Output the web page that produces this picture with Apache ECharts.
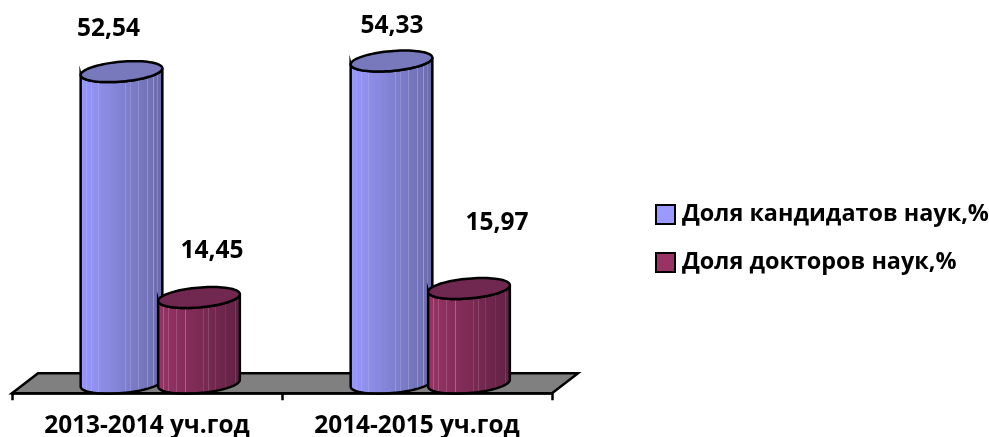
<!DOCTYPE html>
<html>
<head>
<meta charset="utf-8">
<style>
  html, body { margin: 0; padding: 0; background: #fff; }
  #chart { width: 989px; height: 437px; }
</style>
<script src="https://cdn.jsdelivr.net/npm/echarts@6/dist/echarts.min.js"></script>
</head>
<body>
<div id="chart"></div>
<script>
var categories = ['2013-2014 уч.год', '2014-2015 уч.год'];
var candidateName = 'Доля кандидатов наук,%';
var doctorName = 'Доля докторов наук,%';
var candidates = [52.54, 54.33];
var doctors = [14.45, 15.97];

var FONT = '"Open Sans", sans-serif';
var streaks = [0.08, 0.14, 0.23, 0.34, 0.55, 0.61, 0.70, 0.81, 0.88, 0.93]; // светлые полосы на цилиндре
var halfW = 41, halfH = 9.9, tilt = 5 * Math.PI / 180;

function mix (a, b, t) {
  return [0, 1, 2].map(function (i) { return a[i] + (b[i] - a[i]) * t; });
}
function css (c) {
  return 'rgb(' + c.map(Math.round).join(',') + ')';
}
function bodyFill (left, right) {
  var white = [255, 255, 255];
  var stops = [{ offset: 0, color: css(left) }];
  streaks.forEach(function (p) {
    var base = mix(left, right, p);
    stops.push({ offset: p - 0.006, color: css(base) });
    stops.push({ offset: p, color: css(mix(base, white, 0.28)) });
    stops.push({ offset: p + 0.006, color: css(base) });
  });
  stops.push({ offset: 1, color: css(right) });
  return { type: 'linear', x: 0, y: 0, x2: 1, y2: 0, colorStops: stops };
}
function ellipsePoint (cx, cy, t) {
  var ex = halfW * Math.cos(t), ey = halfH * Math.sin(t);
  return [cx + ex * Math.cos(tilt) + ey * Math.sin(tilt), cy - ex * Math.sin(tilt) + ey * Math.cos(tilt)];
}

function cylinder (shift, left, right, capColor, labelOffsets) {
  return function (params, api) {
    var i = api.value(0);
    var top = api.coord([i, api.value(1)]);
    var bottom = api.coord([i, 0]);
    var cx = top[0] + shift;
    var pts = [];
    var k;
    // нижняя дуга и затем верхняя, чтобы получить контур тела
    for (k = 0; k <= 40; k++) pts.push(ellipsePoint(cx, bottom[1], k / 40 * Math.PI));
    for (k = 40; k >= 0; k--) pts.push(ellipsePoint(cx, top[1], k / 40 * Math.PI));
    var capPts = [];
    for (k = 0; k < 80; k++) capPts.push(ellipsePoint(cx, top[1], k / 80 * 2 * Math.PI));
    var off = labelOffsets[i];
    return {
      type: 'group',
      children: [
        { type: 'polygon', shape: { points: pts }, style: { fill: bodyFill(left, right), stroke: '#000', lineWidth: 2.5 } },
        { type: 'polygon', shape: { points: capPts }, style: { fill: capColor, stroke: '#000', lineWidth: 2.5 } },
        {
          type: 'text',
          style: {
            x: cx + off[0], y: top[1] + off[1],
            text: api.value(1).toFixed(2).replace('.', ','),
            fill: '#000', font: 'bold 24.5px ' + FONT, align: 'center', verticalAlign: 'middle'
          }
        }
      ]
    };
  };
}

function floorItem (params, api) {
  var g = params.coordSys;
  var y = g.y + g.height + 10;
  return {
    type: 'polygon',
    shape: { points: [[g.x, y], [g.x + 26, y - 20], [g.x + g.width + 26, y - 20], [g.x + g.width, y]] },
    style: { fill: '#808080', stroke: '#000', lineWidth: 2.5 }
  };
}

var chart = echarts.init(document.getElementById('chart'));
chart.setOption({
  animation: false,
  grid: { left: 12, width: 540, top: 27.4, height: 355.8, outerBoundsMode: 'none' },
  legend: {
    orient: 'vertical',
    left: 650, top: 198,
    icon: 'rect',
    itemWidth: 19, itemHeight: 19, itemGap: 25,
    data: [candidateName, doctorName],
    selectedMode: false,
    textStyle: { color: '#000', fontFamily: FONT, fontWeight: 'bold', fontSize: 23.4, padding: [3, 0, 0, 2] }
  },
  xAxis: {
    type: 'category',
    data: categories,
    offset: 10,
    z: 6,
    axisLine: { onZero: false, lineStyle: { color: '#000', width: 2.5 } },
    axisTick: { show: true, alignWithLabel: false, length: 7, lineStyle: { color: '#000', width: 2.5 } },
    axisLabel: { color: '#000', fontFamily: FONT, fontWeight: 'bold', fontSize: 24.4, margin: 21 }
  },
  yAxis: { type: 'value', min: 0, max: 60, show: false },
  series: [
    {
      type: 'custom', name: 'floor', silent: true, z: 1,
      coordinateSystem: 'cartesian2d',
      renderItem: floorItem,
      data: [[0, 0]]
    },
    {
      type: 'custom', name: candidateName, z: 2,
      coordinateSystem: 'cartesian2d',
      renderItem: cylinder(-25.5, [153, 153, 255], [106, 106, 168], '#7878bd', [[-13, -42.5], [0.5, -35]]),
      itemStyle: { color: '#9999ff', borderColor: '#000', borderWidth: 2.5 },
      data: candidates.map(function (v, i) { return [i, v]; })
    },
    {
      type: 'custom', name: doctorName, z: 3,
      coordinateSystem: 'cartesian2d',
      renderItem: cylinder(52, [153, 51, 102], [96, 34, 68], '#702850', [[13, -46.5], [28, -65]]),
      itemStyle: { color: '#993366', borderColor: '#000', borderWidth: 2.5 },
      data: doctors.map(function (v, i) { return [i, v]; })
    }
  ]
});
</script>
</body>
</html>
